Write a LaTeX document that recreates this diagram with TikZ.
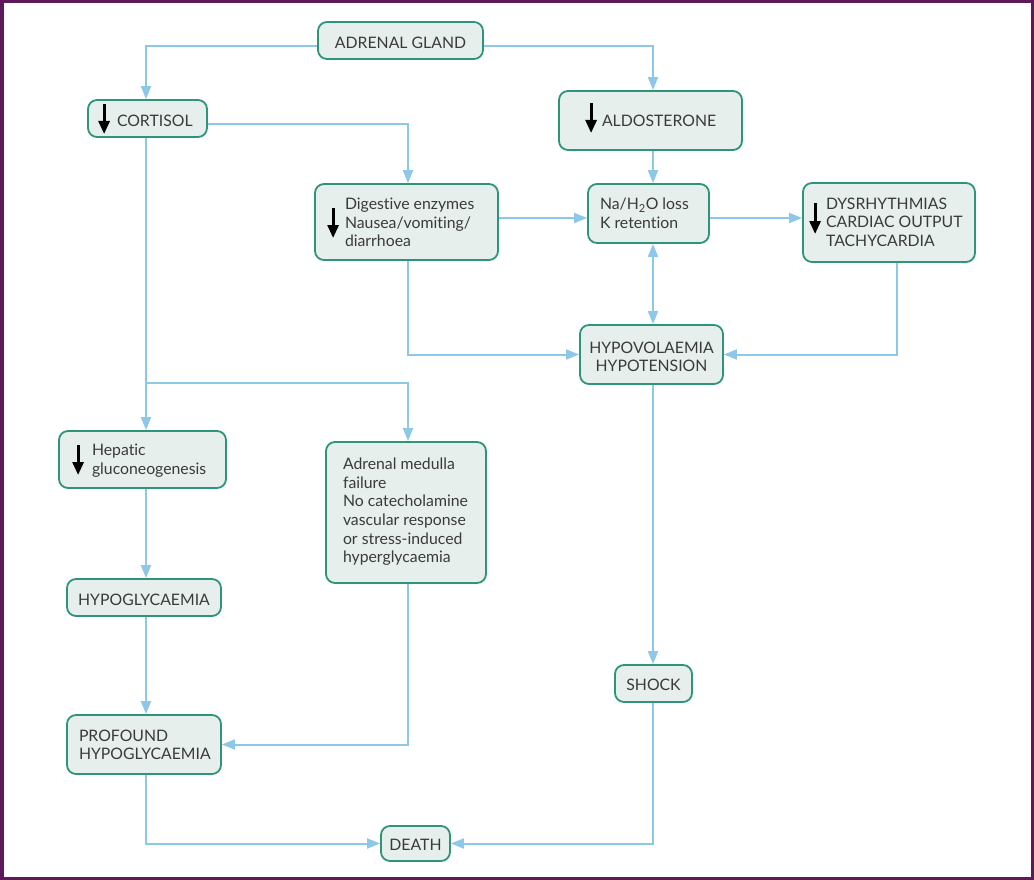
\documentclass[tikz,border=0pt]{standalone}
\usepackage{fontspec}
\setmainfont{Lato}[Ligatures={NoCommon,NoDiscretionary}]
\usetikzlibrary{arrows.meta,calc}
\definecolor{frame}{HTML}{5E1A58}
\definecolor{boxline}{HTML}{2E947A}
\definecolor{boxfill}{HTML}{E7EFEC}
\definecolor{conn}{HTML}{8DC8E8}
\definecolor{txt}{HTML}{3A3A3A}
\newcommand\lowerby[2]{\raisebox{-#1pt}[\dimexpr\height+#1pt\relax][\dimexpr\depth-#1pt\relax]{#2}}
\newcommand\btxt[4][1]{\makebox[#2pt][l]{\hspace*{#3pt}\lowerby{#1}{\begin{tabular}{@{}l@{}}#4\end{tabular}}}}
\newcommand\ctxt[2][2]{\lowerby{#1}{\begin{tabular}{@{}c@{}}#2\end{tabular}}}
\begin{document}
\begin{tikzpicture}[x=1pt,y=-1pt,
  box/.style={draw=boxline, fill=boxfill, line width=1.8pt, rounded corners=9pt,
    inner sep=0pt, text=txt, font=\fontsize{15.8}{18.7}\selectfont, align=center},
  conn/.style={draw=conn, line width=2pt, -{Triangle[length=13pt,width=10pt]}},
  connb/.style={draw=conn, line width=2pt, {Triangle[length=13pt,width=10pt]}-{Triangle[length=13pt,width=10pt]}},
  darr/.style={draw=black, line width=2.8pt, -{Triangle[length=13pt,width=11pt]}}]
\useasboundingbox (0,0) rectangle (1034,880);
\draw[frame, line width=3.5pt] (1.75,1.75) rectangle (1032.25,878.25);

\coordinate (vL) at (146,0);
\coordinate (vM) at (408,0);
\coordinate (vR) at (653,0);
\coordinate (vD) at (897,0);
\coordinate (ly) at (0,218);
\coordinate (la) at (0,46);
\coordinate (lc) at (0,124);
\coordinate (lb) at (0,383);

\node[box, minimum width=165pt, minimum height=37pt] (adr) at (400.5,40.5) {\ctxt[2]{ADRENAL GLAND}};
\node[box, minimum width=119pt, minimum height=37pt] (cort) at (147.5,118.5) {\btxt[2.3]{119}{29}{CORTISOL}};
\node[box, minimum width=183pt, minimum height=59pt] (ald) at (650.5,120.5) {\btxt[1]{183}{43}{ALDOSTERONE}};
\node[box, minimum width=183pt, minimum height=76pt] (dig) at (406.5,222) {\btxt[1.2]{183}{30}{Digestive enzymes\\Nausea/vomiting/\\diarrhoea}};
\node[box, minimum width=121pt, minimum height=59pt] (na) at (648.5,213.5) {\btxt[0.8]{121}{12}{Na/H\textsubscript{2}O loss\\K retention}};
\node[box, minimum width=172pt, minimum height=79pt] (dys) at (889,222.5) {\btxt[0.8]{172}{23}{DYSRHYTHMIAS\\CARDIAC OUTPUT\\TACHYCARDIA}};
\node[box, minimum width=143pt, minimum height=59pt] (hypo) at (651.5,354.5) {\ctxt[2.2]{HYPOVOLAEMIA\\HYPOTENSION}};
\node[box, minimum width=167pt, minimum height=57pt] (hep) at (142.5,459.5) {\btxt[1]{167}{33}{Hepatic\\gluconeogenesis}};
\node[box, minimum width=160pt, minimum height=141pt] (med) at (406,512.5) {\btxt[0]{160}{17}{Adrenal medulla\\failure\\No catecholamine\\vascular response\\or stress-induced\\hyperglycaemia}};
\node[box, minimum width=154pt, minimum height=37pt] (hg) at (144,597.5) {\ctxt[2]{HYPOGLYCAEMIA}};
\node[box, minimum width=77pt, minimum height=37pt] (shock) at (653.5,683.5) {\ctxt[1.5]{SHOCK}};
\node[box, minimum width=154pt, minimum height=59pt] (prof) at (144,744.5) {\btxt[1.2]{154}{12}{PROFOUND\\HYPOGLYCAEMIA}};
\node[box, minimum width=69pt, minimum height=35pt] (death) at (415.5,843.5) {\ctxt[1.5]{DEATH}};

% black down arrows
\draw[darr] ($(cort.west)+(17,-14.5)$) -- ++(0,30);
\draw[darr] ($(ald.west)+(33,-17.5)$) -- ++(0,30);
\draw[darr] ($(dig.west)+(19,-14)$) -- ++(0,30);
\draw[darr] ($(dys.west)+(13,-19.5)$) -- ++(0,31);
\draw[darr] ($(hep.west)+(20,-14.5)$) -- ++(0,30);

% connectors
\draw[conn] (adr.west |- la) -| (vL |- cort.north);
\draw[conn] (adr.east |- la) -| (vR |- ald.north);
\draw[conn] (cort.east |- lc) -| (vM |- dig.north);
\draw[conn] (vR |- ald.south) -- (vR |- na.north);
\draw[conn] (dig.east |- ly) -- (na.west |- ly);
\draw[conn] (na.east |- ly) -- (dys.west |- ly);
\draw[connb] (vR |- na.south) -- (vR |- hypo.north);
\draw[conn] (vM |- dig.south) |- (hypo.west);
\draw[conn] (vD |- dys.south) |- (hypo.east);
\draw[conn] (vR |- hypo.south) -- (vR |- shock.north);
\draw[conn] (vR |- shock.south) |- (death.east);
\draw[conn] (vL |- cort.south) -- (vL |- hep.north);
\draw[conn] (vL |- lb) -| (vM |- med.north);
\draw[conn] (vL |- hep.south) -- (vL |- hg.north);
\draw[conn] (vL |- hg.south) -- (vL |- prof.north);
\draw[conn] (vM |- med.south) |- (prof.east);
\draw[conn] (vL |- prof.south) |- (death.west);
\end{tikzpicture}
\end{document}
